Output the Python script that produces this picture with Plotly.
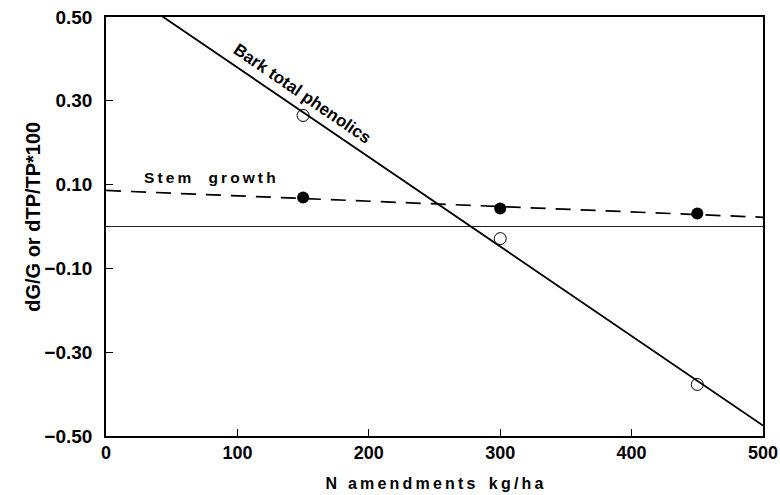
import plotly.graph_objects as go

# Data
n_levels = [150, 300, 450]
bark_vals = [0.265, -0.029, -0.377]     # open circles
stem_vals = [0.069, 0.043, 0.031]       # filled circles

# Fitted lines (endpoints)
bark_fit_x = [0, 500]
bark_fit_y = [0.593, -0.475]
stem_fit_x = [0, 500]
stem_fit_y = [0.086, 0.022]

x_ticks = [0, 100, 200, 300, 400, 500]
y_ticks = [0.5, 0.3, 0.1, -0.1, -0.3, -0.5]
y_tick_labels = ["0.50", "0.30", "0.10", "\u22120.10", "\u22120.30", "\u22120.50"]

FONT = "Liberation Sans, Arial, sans-serif"
TS = "\u2009"  # thin space used for letter spacing


def spaced(s):
    return TS.join(list(s))


fig = go.Figure()
fig.add_trace(go.Scatter(x=bark_fit_x, y=bark_fit_y, mode="lines",
                         line=dict(color="black", width=1.8), showlegend=False))
fig.add_trace(go.Scatter(x=stem_fit_x, y=stem_fit_y, mode="lines",
                         line=dict(color="black", width=1.7, dash="15px,10px"), showlegend=False))
fig.add_trace(go.Scatter(x=n_levels, y=bark_vals, mode="markers",
                         marker=dict(symbol="circle-open", size=12, color="black", line=dict(width=1)),
                         showlegend=False, cliponaxis=False))
fig.add_trace(go.Scatter(x=n_levels, y=stem_vals, mode="markers",
                         marker=dict(symbol="circle", size=12, color="black"),
                         showlegend=False, cliponaxis=False))

fig.add_annotation(x=149, y=0.317, text="<b>Bark total phenolics</b>", showarrow=False,
                   textangle=34.5, font=dict(family=FONT, size=17, color="black"))
fig.add_annotation(x=79, y=0.117,
                   text="<b>" + spaced("Stem") + "&nbsp;&nbsp;&nbsp;&nbsp;" + spaced("growth") + "</b>",
                   showarrow=False, font=dict(family=FONT, size=15.5, color="black"))
# y-axis title placed as an annotation for exact positioning
fig.add_annotation(xref="paper", yref="paper", x=-0.131, y=0.523,
                   text="<b>dG/G or dTP/TP*100</b>", textangle=-90, showarrow=False,
                   font=dict(family=FONT, size=20, color="black"))

fig.update_layout(
    width=780, height=495,
    margin=dict(l=106, r=17, t=17, b=59),
    paper_bgcolor="white", plot_bgcolor="white",
    font=dict(family=FONT, color="black"),
)
fig.update_xaxes(range=[0, 500], tickvals=x_ticks, ticktext=[str(v) for v in x_ticks],
                 ticks="inside", ticklen=7, tickwidth=1, tickcolor="black",
                 showline=True, linecolor="black", linewidth=1.5, mirror=True,
                 showgrid=False, zeroline=False, automargin=False,
                 tickfont=dict(family=FONT, size=18, color="black", weight="bold"),
                 title=dict(text="<b>" + spaced("N amendments") + "&nbsp;&nbsp;&nbsp;" + spaced("kg/ha") + "</b>",
                            font=dict(family=FONT, size=16, color="black")))
fig.update_yaxes(range=[-0.5, 0.5], tickvals=y_ticks, ticktext=y_tick_labels,
                 ticks="inside", ticklen=7, tickwidth=1, tickcolor="black",
                 showline=True, linecolor="black", linewidth=1.5, mirror=True,
                 showgrid=False, zeroline=True, zerolinecolor="#222222", zerolinewidth=1.2,
                 automargin=False, ticklabelstandoff=8,
                 tickfont=dict(family=FONT, size=19, color="black", weight="bold"))

fig.write_html("out.html")
